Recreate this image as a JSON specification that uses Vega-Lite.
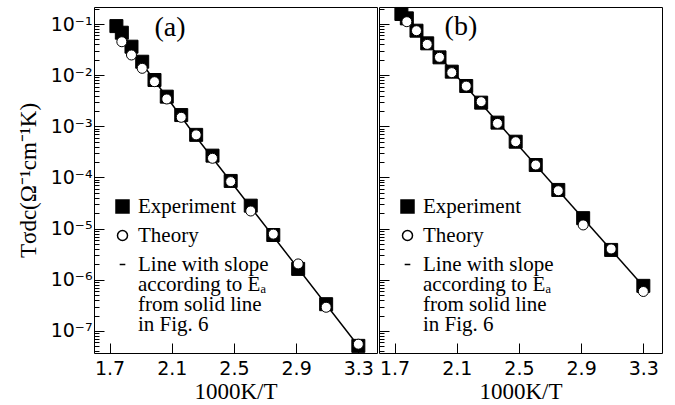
{
  "$schema": "https://vega.github.io/schema/vega-lite/v6.json",
  "padding": {"left": 16, "top": 4, "right": 5, "bottom": 0},
  "background": "white",
  "datasets": {
    "pts": [
      {"panel": "a", "series": "Line", "x": 1.735, "y": 0.0885},
      {"panel": "a", "series": "Line", "x": 2.247, "y": 0.000678},
      {"panel": "a", "series": "Line", "x": 3.311, "y": 4.59e-8},
      {"panel": "a", "series": "Experiment", "x": 1.744, "y": 0.091},
      {"panel": "a", "series": "Experiment", "x": 1.779, "y": 0.0676},
      {"panel": "a", "series": "Experiment", "x": 1.841, "y": 0.036},
      {"panel": "a", "series": "Experiment", "x": 1.91, "y": 0.0183},
      {"panel": "a", "series": "Experiment", "x": 1.989, "y": 0.00804},
      {"panel": "a", "series": "Experiment", "x": 2.068, "y": 0.0038},
      {"panel": "a", "series": "Experiment", "x": 2.161, "y": 0.00166},
      {"panel": "a", "series": "Experiment", "x": 2.257, "y": 0.00068},
      {"panel": "a", "series": "Experiment", "x": 2.362, "y": 0.000267},
      {"panel": "a", "series": "Experiment", "x": 2.479, "y": 8.55e-5},
      {"panel": "a", "series": "Experiment", "x": 2.608, "y": 2.81e-5},
      {"panel": "a", "series": "Experiment", "x": 2.753, "y": 7.5e-6},
      {"panel": "a", "series": "Experiment", "x": 2.913, "y": 1.63e-6},
      {"panel": "a", "series": "Experiment", "x": 3.093, "y": 3.33e-7},
      {"panel": "a", "series": "Experiment", "x": 3.3, "y": 5.1e-8},
      {"panel": "a", "series": "Theory", "x": 1.779, "y": 0.045},
      {"panel": "a", "series": "Theory", "x": 1.841, "y": 0.0248},
      {"panel": "a", "series": "Theory", "x": 1.91, "y": 0.0136},
      {"panel": "a", "series": "Theory", "x": 1.989, "y": 0.00745},
      {"panel": "a", "series": "Theory", "x": 2.068, "y": 0.00342},
      {"panel": "a", "series": "Theory", "x": 2.161, "y": 0.0015},
      {"panel": "a", "series": "Theory", "x": 2.257, "y": 0.00068},
      {"panel": "a", "series": "Theory", "x": 2.362, "y": 0.000237},
      {"panel": "a", "series": "Theory", "x": 2.479, "y": 8.3e-5},
      {"panel": "a", "series": "Theory", "x": 2.608, "y": 2.21e-5},
      {"panel": "a", "series": "Theory", "x": 2.753, "y": 7.8e-6},
      {"panel": "a", "series": "Theory", "x": 2.913, "y": 2.04e-6},
      {"panel": "a", "series": "Theory", "x": 3.093, "y": 2.9e-7},
      {"panel": "a", "series": "Theory", "x": 3.3, "y": 5.5e-8},
      {"panel": "b", "series": "Line", "x": 1.73, "y": 0.176},
      {"panel": "b", "series": "Line", "x": 3.3, "y": 7.5e-7},
      {"panel": "b", "series": "Experiment", "x": 1.744, "y": 0.157},
      {"panel": "b", "series": "Experiment", "x": 1.779, "y": 0.129},
      {"panel": "b", "series": "Experiment", "x": 1.841, "y": 0.074},
      {"panel": "b", "series": "Experiment", "x": 1.91, "y": 0.0419},
      {"panel": "b", "series": "Experiment", "x": 1.989, "y": 0.0223},
      {"panel": "b", "series": "Experiment", "x": 2.068, "y": 0.0117},
      {"panel": "b", "series": "Experiment", "x": 2.161, "y": 0.00614},
      {"panel": "b", "series": "Experiment", "x": 2.257, "y": 0.0029},
      {"panel": "b", "series": "Experiment", "x": 2.362, "y": 0.00118},
      {"panel": "b", "series": "Experiment", "x": 2.479, "y": 0.0005},
      {"panel": "b", "series": "Experiment", "x": 2.608, "y": 0.000175},
      {"panel": "b", "series": "Experiment", "x": 2.753, "y": 5.7e-5},
      {"panel": "b", "series": "Experiment", "x": 2.913, "y": 1.6e-5},
      {"panel": "b", "series": "Experiment", "x": 3.093, "y": 3.83e-6},
      {"panel": "b", "series": "Experiment", "x": 3.3, "y": 7.6e-7},
      {"panel": "b", "series": "Theory", "x": 1.779, "y": 0.111},
      {"panel": "b", "series": "Theory", "x": 1.841, "y": 0.074},
      {"panel": "b", "series": "Theory", "x": 1.91, "y": 0.04},
      {"panel": "b", "series": "Theory", "x": 1.989, "y": 0.0223},
      {"panel": "b", "series": "Theory", "x": 2.068, "y": 0.0112},
      {"panel": "b", "series": "Theory", "x": 2.161, "y": 0.0061},
      {"panel": "b", "series": "Theory", "x": 2.257, "y": 0.00303},
      {"panel": "b", "series": "Theory", "x": 2.362, "y": 0.00114},
      {"panel": "b", "series": "Theory", "x": 2.479, "y": 0.0005},
      {"panel": "b", "series": "Theory", "x": 2.608, "y": 0.000175},
      {"panel": "b", "series": "Theory", "x": 2.753, "y": 5.5e-5},
      {"panel": "b", "series": "Theory", "x": 2.913, "y": 1.18e-5},
      {"panel": "b", "series": "Theory", "x": 3.093, "y": 4.0e-6},
      {"panel": "b", "series": "Theory", "x": 3.3, "y": 5.9e-7}
    ]
  },
  "config": {
    "view": {"stroke": "black", "strokeWidth": 1},
    "style": {"guide-label": {"lineHeight": 20}},
    "axis": {
      "labelFont": "DejaVu Sans", "labelFontSize": 19, "labelColor": "black",
      "titleFont": "Liberation Serif", "titleFontSize": 23, "titleFontWeight": "normal", "titleColor": "black",
      "tickColor": "black", "tickWidth": 1, "domain": false, "grid": false
    },
    "legend": {
      "orient": "bottom-left", "offset": 18, "padding": 0,
      "labelFont": "Liberation Serif", "labelFontSize": 21, "labelColor": "black",
      "symbolStrokeWidth": 1.5,
      "rowPadding": 7, "labelOffset": 5
    }
  },
  "spacing": 0,
  "hconcat": [
    {
      "width": 283, "height": 346,
      "data": {"name": "pts"},
      "layer": [
        {
          "transform": [{"filter": "datum.panel == 'a' && datum.series == 'Line'"}],
          "mark": {"type": "line", "color": "black", "strokeWidth": 1.5},
          "encoding": {
            "x": {"field": "x", "type": "quantitative", "scale": {"domain": [1.6, 3.42], "nice": false, "zero": false},
                  "axis": {"values": [1.7, 2.1, 2.5, 2.9, 3.3], "format": ".1f", "tickSize": -10, "labelPadding": 16, "title": "1000K/T", "titlePadding": 2}},
            "y": {"field": "y", "type": "quantitative", "scale": {"type": "log", "domain": [3.7e-8, 0.215], "nice": false},
                  "axis": {"orient": "left", "values": [1e-7, 1e-6, 1e-5, 1e-4, 1e-3, 1e-2, 1e-1], "tickSize": -10, "labelPadding": 12,
                           "labelExpr": "'10⁻' + ['', '¹', '²', '³', '⁴', '⁵', '⁶', '⁷'][round(-log(datum.value) / LN10)]",
                           "title": "Tσdc(Ω⁻¹cm⁻¹K)", "titlePadding": 10}}
          }
        },
        {
          "transform": [{"filter": "datum.panel == 'a' && datum.series != 'Line'"}],
          "mark": {"type": "point", "filled": true, "strokeWidth": 1, "opacity": 1},
          "encoding": {
            "x": {"field": "x", "type": "quantitative"},
            "y": {"field": "y", "type": "quantitative",
                  "axis": {"orient": "left", "values": [4e-8,5e-8,6e-8,7e-8,8e-8,9e-8,2e-7,3e-7,4e-7,5e-7,6e-7,7e-7,8e-7,9e-7,2e-6,3e-6,4e-6,5e-6,6e-6,7e-6,8e-6,9e-6,2e-5,3e-5,4e-5,5e-5,6e-5,7e-5,8e-5,9e-5,2e-4,3e-4,4e-4,5e-4,6e-4,7e-4,8e-4,9e-4,2e-3,3e-3,4e-3,5e-3,6e-3,7e-3,8e-3,9e-3,2e-2,3e-2,4e-2,5e-2,6e-2,7e-2,8e-2,9e-2,0.2],
                           "tickSize": -5, "labels": false, "title": null}},
            "shape": {"field": "series", "type": "nominal",
                      "scale": {"domain": ["Experiment", "Theory", "Line"], "range": ["square", "circle", "stroke"]},
                      "legend": {"title": null,
                                 "labelExpr": "datum.label == 'Line' ? ['Line with slope', 'according to Eₐ', 'from solid line', 'in Fig. 6'] : datum.label"}},
            "fill": {"field": "series", "type": "nominal",
                     "scale": {"domain": ["Experiment", "Theory", "Line"], "range": ["black", "white", "black"]},
                     "legend": {"title": null}},
            "stroke": {"field": "series", "type": "nominal",
                     "scale": {"domain": ["Experiment", "Theory", "Line"], "range": ["black", "black", "black"]},
                     "legend": {"title": null}},
            "size": {"field": "series", "type": "nominal",
                     "scale": {"domain": ["Experiment", "Theory", "Line"], "range": [169, 32, 289]},
                     "legend": {"title": null}}
          }
        },
        {
          "data": {"values": [{"label": "(a)"}]},
          "mark": {"type": "text", "font": "Liberation Serif", "fontSize": 28, "color": "black", "align": "center", "baseline": "middle"},
          "encoding": {
            "x": {"datum": 2.089, "type": "quantitative"},
            "y": {"datum": 0.0836, "type": "quantitative", "axis": null},
            "text": {"field": "label"}
          }
        }
      ],
      "resolve": {"axis": {"y": "independent"}}
    },
    {
      "width": 283, "height": 346,
      "data": {"name": "pts"},
      "layer": [
        {
          "transform": [{"filter": "datum.panel == 'b' && datum.series == 'Line'"}],
          "mark": {"type": "line", "color": "black", "strokeWidth": 1.5},
          "encoding": {
            "x": {"field": "x", "type": "quantitative", "scale": {"domain": [1.6, 3.42], "nice": false, "zero": false},
                  "axis": {"values": [1.7, 2.1, 2.5, 2.9, 3.3], "format": ".1f", "tickSize": -10, "labelPadding": 16, "title": "1000K/T", "titlePadding": 2}},
            "y": {"field": "y", "type": "quantitative", "scale": {"type": "log", "domain": [3.7e-8, 0.215], "nice": false},
                  "axis": {"orient": "left", "values": [1e-7, 1e-6, 1e-5, 1e-4, 1e-3, 1e-2, 1e-1], "tickSize": -10, "labels": false, "title": null}}
          }
        },
        {
          "transform": [{"filter": "datum.panel == 'b' && datum.series != 'Line'"}],
          "mark": {"type": "point", "filled": true, "strokeWidth": 1, "opacity": 1},
          "encoding": {
            "x": {"field": "x", "type": "quantitative"},
            "y": {"field": "y", "type": "quantitative",
                  "axis": {"orient": "left", "values": [4e-8,5e-8,6e-8,7e-8,8e-8,9e-8,2e-7,3e-7,4e-7,5e-7,6e-7,7e-7,8e-7,9e-7,2e-6,3e-6,4e-6,5e-6,6e-6,7e-6,8e-6,9e-6,2e-5,3e-5,4e-5,5e-5,6e-5,7e-5,8e-5,9e-5,2e-4,3e-4,4e-4,5e-4,6e-4,7e-4,8e-4,9e-4,2e-3,3e-3,4e-3,5e-3,6e-3,7e-3,8e-3,9e-3,2e-2,3e-2,4e-2,5e-2,6e-2,7e-2,8e-2,9e-2,0.2],
                           "tickSize": -5, "labels": false, "title": null}},
            "shape": {"field": "series", "type": "nominal",
                      "scale": {"domain": ["Experiment", "Theory", "Line"], "range": ["square", "circle", "stroke"]},
                      "legend": {"title": null,
                                 "labelExpr": "datum.label == 'Line' ? ['Line with slope', 'according to Eₐ', 'from solid line', 'in Fig. 6'] : datum.label"}},
            "fill": {"field": "series", "type": "nominal",
                     "scale": {"domain": ["Experiment", "Theory", "Line"], "range": ["black", "white", "black"]},
                     "legend": {"title": null}},
            "stroke": {"field": "series", "type": "nominal",
                     "scale": {"domain": ["Experiment", "Theory", "Line"], "range": ["black", "black", "black"]},
                     "legend": {"title": null}},
            "size": {"field": "series", "type": "nominal",
                     "scale": {"domain": ["Experiment", "Theory", "Line"], "range": [169, 32, 289]},
                     "legend": {"title": null}}
          }
        },
        {
          "data": {"values": [{"label": "(b)"}]},
          "mark": {"type": "text", "font": "Liberation Serif", "fontSize": 28, "color": "black", "align": "center", "baseline": "middle"},
          "encoding": {
            "x": {"datum": 2.127, "type": "quantitative"},
            "y": {"datum": 0.0885, "type": "quantitative", "axis": null},
            "text": {"field": "label"}
          }
        }
      ],
      "resolve": {"axis": {"y": "independent"}}
    }
  ],
  "resolve": {
    "scale": {"x": "independent", "y": "independent", "shape": "independent", "fill": "independent", "stroke": "independent", "size": "independent"},
    "legend": {"shape": "independent", "fill": "independent", "stroke": "independent", "size": "independent"}
  }
}
